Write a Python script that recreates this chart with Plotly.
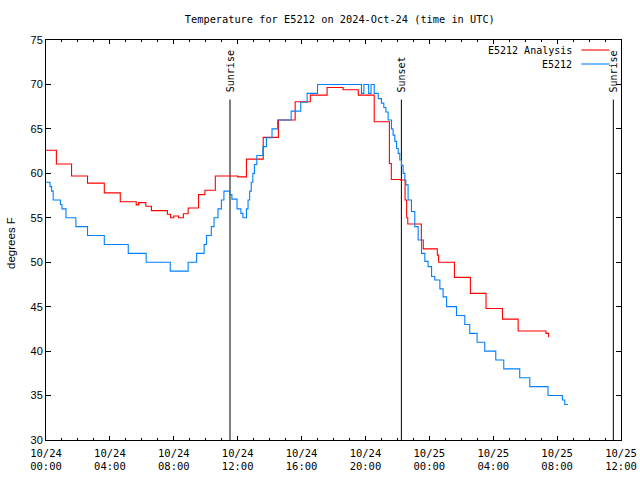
import plotly.graph_objects as go
import pandas as pd

base = pd.Timestamp("2024-10-24 00:00")

# E5212 Analysis (hours after 10/24 00:00 UTC, degrees F) - step changes
analysis_hours = [0.0, 0.65, 1.6, 2.6, 3.65, 4.65, 5.65, 5.8, 6.25, 6.6, 7.6, 7.8, 8.0, 8.3,
                  8.6, 8.9, 9.55, 9.95, 10.6, 12.0, 12.55, 13.6, 14.55, 15.6, 16.55, 17.6,
                  18.6, 19.55, 20.55, 21.5, 21.62, 22.2, 22.48, 22.58, 22.65, 23.5, 23.62,
                  24.5, 24.58, 25.57, 26.57, 27.55, 28.58, 29.56, 31.3, 31.46]
analysis_temps = [62.6, 61.05, 59.7, 58.9, 57.8, 56.8, 56.45, 56.7, 56.3, 55.8, 55.4, 55.0, 55.2, 55.0,
                  55.45, 56.1, 57.6, 58.1, 59.7, 59.6, 61.6, 64.05, 66.0, 68.05, 68.8, 69.65,
                  69.4, 68.8, 65.8, 61.1, 59.3, 59.25, 57.0, 55.0, 54.3, 52.5, 51.5,
                  50.8, 50.0, 48.3, 46.5, 44.8, 43.6, 42.26, 42.0, 41.55]

# E5212 observations
obs_hours = [0.0, 0.25, 0.35, 0.45, 0.9, 1.0, 1.25, 1.87, 2.6, 3.65, 5.15, 6.27, 7.78, 8.9,
             9.43, 9.9, 10.05, 10.35, 10.52, 10.77, 10.98, 11.14, 11.5, 11.64, 11.96, 12.2,
             12.33, 12.55, 12.65, 12.75, 12.85, 12.95, 13.05, 13.2, 13.58, 13.8, 14.15, 14.5,
             15.35, 15.95, 16.35, 17.0, 19.75, 19.9, 20.2, 20.35, 20.55, 20.8, 21.0, 21.15,
             21.28, 21.42, 21.63, 21.73, 21.84, 21.95, 22.05, 22.15, 22.26, 22.36, 22.47,
             22.53, 22.67, 22.88, 23.09, 23.3, 23.51, 23.72, 23.92, 24.14, 24.34, 24.66,
             24.86, 25.08, 25.7, 26.22, 26.53, 26.99, 27.47, 28.16, 28.66, 29.66, 30.29,
             31.43, 32.33, 32.48, 32.68]
obs_temps = [59, 58.5, 58, 57, 56.5, 56, 55, 54, 53, 52, 51, 50, 49, 50,
             51, 52, 53, 54, 55, 56, 57, 58, 57.6, 57.1, 56.0, 55.5,
             55.0, 56, 57, 58, 59, 60, 61, 62, 63, 64, 65, 66,
             67, 68, 69, 70, 69, 70, 69, 70, 69, 68.4, 67.9, 67.4,
             66.9, 66.0, 65.0, 64.3, 63.6, 62.8, 62.25, 61.5, 60.9, 60.0, 59.25,
             58.7, 57.0, 55.7, 54.0, 52.5, 51.0, 50.1, 49.5, 48.4, 48.0, 47.0,
             46.1, 45.0, 44.0, 43.0, 42.0, 41.0, 40.0, 39.0, 38.0, 37.0, 36.0,
             35.0, 34.5, 34.0, 34.0]

sun_hours = [11.52, 22.25, 35.52]
sun_labels = ["Sunrise", "Sunset", "Sunrise"]

tick_hours = [0, 4, 8, 12, 16, 20, 24, 28, 32, 36]


def to_time(hs):
    return [base + pd.Timedelta(hours=h) for h in hs]


mono = "DejaVu Sans Mono"
sans = "Liberation Sans"

fig = go.Figure()
fig.add_trace(go.Scatter(x=to_time(analysis_hours), y=analysis_temps, mode="lines",
                         line=dict(color="#ff0000", width=1.1, shape="hv"),
                         name="E5212 Analysis"))
fig.add_trace(go.Scatter(x=to_time(obs_hours), y=obs_temps, mode="lines",
                         line=dict(color="#0080ff", width=1.1, shape="hv"),
                         name="E5212"))

for t, lab in zip(to_time(sun_hours), sun_labels):
    fig.add_shape(type="line", x0=t, x1=t, y0=30, y1=68.3, xref="x", yref="y",
                  line=dict(color="black", width=1), layer="below")
    fig.add_annotation(x=t, y=68.9, xref="x", yref="y", text=lab, textangle=-90,
                       showarrow=False, xanchor="center", yanchor="bottom",
                       font=dict(family=mono, size=10, color="black"))

# legend (gnuplot style: text then line sample)
leg_names = ["E5212 Analysis", "E5212"]
leg_colors = ["#ff0000", "#0080ff"]
leg_y = [0.975, 0.94]
for nm, col, yy in zip(leg_names, leg_colors, leg_y):
    fig.add_annotation(x=0.918, y=yy, xref="paper", yref="paper", text=nm, showarrow=False,
                       xanchor="right", yanchor="middle",
                       font=dict(family=mono, size=10, color="black"))
    fig.add_shape(type="line", x0=0.931, x1=0.980, y0=yy, y1=yy, xref="paper", yref="paper",
                  line=dict(color=col, width=1.1))

fig.add_annotation(x=-0.061, y=0.4925, xref="paper", yref="paper", text="degrees F",
                   textangle=-90, showarrow=False, xanchor="center", yanchor="middle",
                   font=dict(family=sans, size=11.5, color="black"))

tick_times = to_time(tick_hours)
fig.update_layout(
    width=640, height=480,
    margin=dict(l=46, r=19, t=40, b=40, autoexpand=False),
    paper_bgcolor="white", plot_bgcolor="white",
    showlegend=False,
    title=dict(text="Temperature for E5212 on 2024-Oct-24 (time in UTC)",
               x=0.511, xref="paper", xanchor="center", y=1 - 19 / 480, yref="container",
               yanchor="middle", font=dict(family=mono, size=10.3, color="black")),
    xaxis=dict(range=[base, base + pd.Timedelta(hours=36)], showgrid=False, zeroline=False,
               automargin=False,
               showline=True, linecolor="black", linewidth=1, mirror="ticks",
               ticks="inside", ticklen=4, tickcolor="black",
               tickmode="array", tickvals=tick_times,
               ticktext=[t.strftime("%m/%d") + "<br>" + t.strftime("%H:%M") for t in tick_times],
               tickfont=dict(family=mono, size=10.5, color="black"),
               ticklabelstandoff=3,
               minor=dict(ticks="inside", ticklen=2, tickcolor="black", dtick=3600000,
                          tick0=base, showgrid=False)),
    yaxis=dict(range=[30, 75], dtick=5, tick0=30, showgrid=False, zeroline=False,
               automargin=False,
               showline=True, linecolor="black", linewidth=1, mirror="ticks",
               ticks="inside", ticklen=5, tickcolor="black",
               tickfont=dict(family=sans, size=11, color="black")),
)

# remove the default page margin so the 640x480 figure fills the window exactly
fig.write_html("out.html", config={"displayModeBar": False},
               post_script="document.body.style.margin='0px';")
